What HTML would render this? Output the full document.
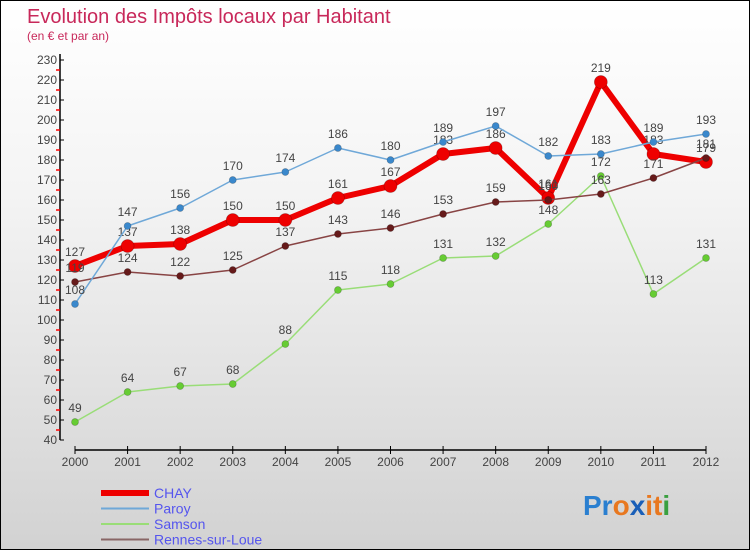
<!DOCTYPE html>
<html><head><meta charset="utf-8"><style>
html,body{margin:0;padding:0}
body{width:750px;height:550px;overflow:hidden;font-family:"Liberation Sans",sans-serif}
#wrap{position:relative;width:748px;height:548px;border:1px solid #000;background:linear-gradient(#ffffff,#f4f4f4 35%,#d2d2d2)}
</style></head><body>
<div id="wrap">
<svg id="chart" width="748" height="548" style="position:absolute;left:0;top:0">
<text x="26" y="22" font-size="20" fill="#c8285a">Evolution des Impôts locaux par Habitant</text>
<text x="26" y="39" font-size="12" fill="#c8285a">(en € et par an)</text>
<g id="axes"></g><g id="series"></g><g id="legend"></g>
<text x="582" y="514" font-size="28" font-weight="bold"><tspan fill="#2a7fd0">Pr</tspan><tspan fill="#e87820">o</tspan><tspan fill="#1a5fb8">x</tspan><tspan fill="#e87820">i</tspan><tspan fill="#e87820">t</tspan><tspan fill="#3aa040">i</tspan></text>
</svg>
</div>
<script>
const years=["2000","2001","2002","2003","2004","2005","2006","2007","2008","2009","2010","2011","2012"];
const yTicks=[40,50,60,70,80,90,100,110,120,130,140,150,160,170,180,190,200,210,220,230];
const chay=[127,137,138,150,150,161,167,183,186,161,219,183,179];
const paroy=[108,147,156,170,174,186,180,189,197,182,183,189,193];
const samson=[49,64,67,68,88,115,118,131,132,148,172,113,131];
const rennes=[119,124,122,125,137,143,146,153,159,160,163,171,181];
const NS="http://www.w3.org/2000/svg";
const x0=74,x1=705,yMin=40,yMax=230,py0=439,py1=59;
const xs=i=>x0+(x1-x0)*i/(years.length-1);
const ys=v=>py0-(v-yMin)*(py0-py1)/(yMax-yMin);
function mk(t,a,p){const e=document.createElementNS(NS,t);for(const k in a)e.setAttribute(k,a[k]);(p||document.getElementById('axes')).appendChild(e);return e;}
let l=mk('line',{x1:59,y1:ys(yMax)-6,x2:59,y2:ys(yMin),stroke:'#000','stroke-width':1.5});


l=mk('line',{x1:x0,y1:449,x2:x1,y2:449,stroke:'#000','stroke-width':1.5});


yTicks.forEach((v,i)=>{
  mk('line',{x1:59,y1:ys(v),x2:63,y2:ys(v),stroke:'#000'});
  if(i<yTicks.length-1)mk('line',{x1:55,y1:ys(v+5),x2:59,y2:ys(v+5),stroke:'#ff0000','stroke-width':1.5});
  const t=mk('text',{x:56,y:ys(v)+4,'font-size':12,'text-anchor':'end',fill:'#444'});
  t.textContent=v;
  
  
});
years.forEach((y,i)=>{
  mk('line',{x1:xs(i),y1:445,x2:xs(i),y2:453,stroke:'#000'});
  const t=mk('text',{x:xs(i),y:465,'font-size':12,'text-anchor':'middle',fill:'#444'});
  t.textContent=y;
  
  
});
const sg=document.getElementById('series');
const defs=[
 {name:'chay',data:chay,color:'#ee0000',w:6,r:6.5,dot:'#ee0000'},
 {name:'samson',data:samson,color:'#99dd77',w:1.5,r:3.5,dot:'#66cc33'},
 {name:'rennes',data:rennes,color:'#884444',w:1.5,r:3.5,dot:'#661a1a'},
 {name:'paroy',data:paroy,color:'#6fa8d8',w:1.5,r:3.5,dot:'#3a88cc'}
];
defs.forEach(s=>{
  const g=mk('g',{},sg);
  
  
  const pl=mk('polyline',{points:s.data.map((v,i)=>xs(i)+','+ys(v)).join(' '),fill:'none',stroke:s.color,'stroke-width':s.w,'stroke-linejoin':'round'},g);
  
  
  s.data.forEach((v,i)=>{
    const c=mk('circle',{cx:xs(i),cy:ys(v),r:s.r,fill:s.dot,stroke:'rgba(0,0,0,0.25)','stroke-width':0.7},g);
    
    
    const t=mk('text',{x:xs(i),y:ys(v)-10,'font-size':12,'text-anchor':'middle',fill:'#444'},g);
    t.textContent=v;
    
    
  });
});
const lg=document.getElementById('legend');
const leg=[['CHAY','#ee0000',6],['Paroy','#6fa8d8',2],['Samson','#99dd77',2],['Rennes-sur-Loue','#886666',2]];
leg.forEach((e,i)=>{
  const y=492+i*15.5;
  const g=mk('g',{},lg);
  
  
  mk('line',{x1:100,y1:y,x2:148,y2:y,stroke:e[1],'stroke-width':e[2]},g);
  const t=mk('text',{x:153,y:y+5,'font-size':14,fill:'#5555ee'},g);
  t.textContent=e[0];
});
</script>
</body></html>
